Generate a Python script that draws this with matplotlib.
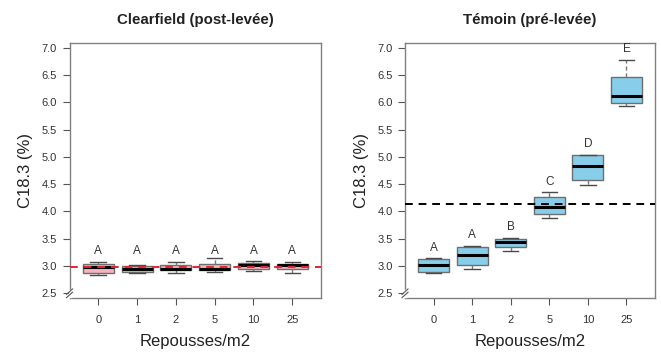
import matplotlib
matplotlib.use("Agg")
import matplotlib.pyplot as plt

plt.rcParams['font.family'] = ['Liberation Sans', 'DejaVu Sans']

# densité de repousses
categories = ["0", "1", "2", "5", "10", "25"]

# Clearfield (post-levée) : whislo, q1, med, q3, whishi
clearfield_whislo = [2.84, 2.875, 2.875, 2.89, 2.905, 2.875]
clearfield_q1 = [2.875, 2.89, 2.92, 2.92, 2.94, 2.94]
clearfield_med = [2.98, 2.94, 2.94, 2.94, 3.01, 3.01]
clearfield_q3 = [3.04, 3.006, 3.02, 3.04, 3.06, 3.04]
clearfield_whishi = [3.075, 3.02, 3.075, 3.14, 3.09, 3.075]
clearfield_letters = ["A", "A", "A", "A", "A", "A"]
clearfield_letter_y = [3.28, 3.28, 3.28, 3.28, 3.28, 3.28]
clearfield_ref = 2.98

# Témoin (pré-levée)
temoin_whislo = [2.88, 2.95, 3.27, 3.88, 4.48, 5.94]
temoin_q1 = [2.89, 3.01, 3.35, 3.95, 4.57, 5.98]
temoin_med = [3.01, 3.21, 3.44, 4.09, 4.84, 6.11]
temoin_q3 = [3.13, 3.35, 3.49, 4.26, 5.03, 6.47]
temoin_whishi = [3.14, 3.37, 3.52, 4.35, 5.04, 6.77]
temoin_letters = ["A", "A", "B", "C", "D", "E"]
temoin_letter_y = [3.33, 3.56, 3.71, 4.54, 5.23, 6.97]
temoin_ref = 4.13

yticks = [2.5, 3.0, 3.5, 4.0, 4.5, 5.0, 5.5, 6.0, 6.5, 7.0]


def make_stats(whislo, q1, med, q3, whishi):
    return [dict(whislo=a, q1=b, med=c, q3=d, whishi=e, fliers=[])
            for a, b, c, d, e in zip(whislo, q1, med, q3, whishi)]


def draw_panel(ax, stats, fill, letters, letter_y, ref, ref_color, title):
    pos = list(range(1, len(categories) + 1))
    ax.bxp(stats, positions=pos, widths=0.8, patch_artist=True, showfliers=False,
           boxprops=dict(facecolor=fill, edgecolor='#6e6e6e', linewidth=1.0),
           medianprops=dict(color='black', linewidth=2.2),
           whiskerprops=dict(color='#7a7a7a', linestyle=(0, (3, 2)), linewidth=1.0),
           capprops=dict(color='#4a4a4a', linewidth=1.0),
           capwidths=0.4)
    ax.axhline(ref, color=ref_color, linestyle=(0, (4, 3)), linewidth=1.4, zorder=5)
    for p, lab, y in zip(pos, letters, letter_y):
        ax.text(p, y, lab, ha='center', va='center', fontsize=8.5, color='#333333')
    ax.set_xlim(0.26, 6.74)
    ax.set_ylim(2.414, 7.088)
    ax.set_xticks(pos)
    ax.set_xticklabels(categories)
    ax.set_yticks(yticks)
    ax.set_yticklabels([f"{v:.1f}" for v in yticks])
    ax.tick_params(axis='both', labelsize=8, colors='#555555', labelcolor='#333333',
                   length=5, width=0.8, pad=4)
    ax.tick_params(axis='x', pad=7)
    for s in ax.spines.values():
        s.set_color('#808080')
        s.set_linewidth(1.0)
    ax.set_xlabel("Repousses/m2", fontsize=12, color='#222222', labelpad=7)
    ax.set_ylabel("C18.3 (%)", fontsize=12, color='#222222', labelpad=6)
    ax.set_title(title, fontsize=10.8, fontweight='bold', color='#222222', pad=14)
    # coupure d'axe
    yb = 2.5
    tr = ax.get_yaxis_transform()
    ax.plot([0, 0], [yb - 0.045, yb + 0.045], color='white', linewidth=2.5,
            transform=tr, clip_on=False, zorder=6)
    for dy in (-0.03, 0.03):
        ax.plot([-0.012, 0.012], [yb + dy - 0.05, yb + dy + 0.05], color='#555555',
                linewidth=0.8, transform=tr, clip_on=False, zorder=7)


fig = plt.figure(figsize=(6.61, 3.56), dpi=100)
ax1 = fig.add_axes([69.5 / 661, 58 / 356, 251.5 / 661, 255 / 356])
ax2 = fig.add_axes([405 / 661, 58 / 356, 250 / 661, 255 / 356])

draw_panel(ax1, make_stats(clearfield_whislo, clearfield_q1, clearfield_med, clearfield_q3, clearfield_whishi),
           '#f5b3bf', clearfield_letters, clearfield_letter_y, clearfield_ref, '#e0282e',
           "Clearfield (post-levée)")
draw_panel(ax2, make_stats(temoin_whislo, temoin_q1, temoin_med, temoin_q3, temoin_whishi),
           '#87ceeb', temoin_letters, temoin_letter_y, temoin_ref, 'black',
           "Témoin (pré-levée)")

fig.savefig("out.png", dpi=100)
